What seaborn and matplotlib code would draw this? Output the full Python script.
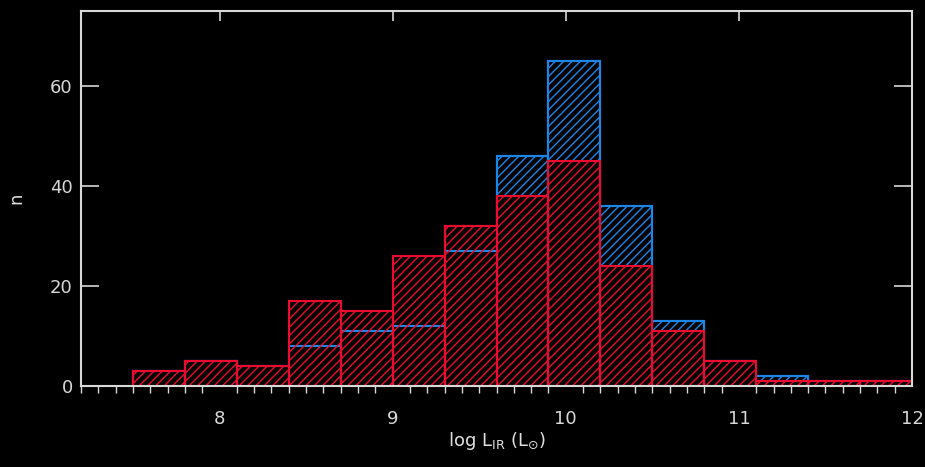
import numpy as np
import pandas as pd
import matplotlib
matplotlib.use("Agg")
import matplotlib.pyplot as plt
from matplotlib.ticker import MultipleLocator
import seaborn as sns

# Bin edges (log L_IR) and counts per bin
bin_edges = [7.5, 7.8, 8.1, 8.4, 8.7, 9.0, 9.3, 9.6, 9.9, 10.2, 10.5, 10.8, 11.1, 11.4, 11.7, 12.0]
blue_counts = [3, 5, 4, 8, 11, 12, 27, 46, 65, 36, 13, 5, 2, 1, 1]
red_counts = [3, 5, 4, 17, 15, 26, 32, 38, 45, 24, 11, 5, 1, 1, 1]
x_ticks = [8, 9, 10, 11, 12]
y_ticks = [0, 20, 40, 60]

centers = [(a + b) / 2 for a, b in zip(bin_edges[:-1], bin_edges[1:])]
df_blue = pd.DataFrame({"logL": centers, "n": blue_counts})
df_red = pd.DataFrame({"logL": centers, "n": red_counts})

sns.set_theme(style="dark")
plt.rcParams.update({
    "figure.facecolor": "black",
    "axes.facecolor": "black",
    "axes.edgecolor": "#d8d8d8",
    "text.color": "#e0e0e0",
    "axes.labelcolor": "#e0e0e0",
    "xtick.color": "#d8d8d8",
    "ytick.color": "#d8d8d8",
    "hatch.linewidth": 1.0,
})
plt.rcParams["font.family"] = ["DejaVu Sans"]

fig = plt.figure(figsize=(9.25, 4.67), dpi=100)
ax = fig.add_axes([0.0876, 0.1734, 0.8984, 0.8026])

BLUE = "#1a86e8"
RED = "#ee0a2e"


def draw(df, edge, face, hatch, lw):
    before = len(ax.patches)
    sns.histplot(data=df, x="logL", weights="n", bins=bin_edges, ax=ax,
                 fill=False, element="bars", color=edge, linewidth=lw)
    for p in ax.patches[before:]:
        p.set_hatch(hatch)
        p.set_edgecolor(edge)
        p.set_facecolor(face)
        p.set_linewidth(lw)


# blue hatched bars
draw(df_blue, BLUE, "none", "////", 1.5)
# black-out under red bars
draw(df_red, "none", "black", None, 0)
# blue outlines visible inside red bars
draw(df_blue, BLUE, "none", None, 1.5)
# red hatched bars on top
draw(df_red, RED, "none", "////", 1.5)

ax.set_xlim(7.2, 12.0)
ax.set_ylim(0, 75)
ax.set_xticks(x_ticks)
ax.set_xticklabels([str(t) for t in x_ticks])
ax.xaxis.set_minor_locator(MultipleLocator(0.1))
ax.set_yticks(y_ticks)
ax.set_yticklabels([str(t) for t in y_ticks])
ax.grid(False)

ax.tick_params(axis="x", which="major", direction="out", length=9, width=1.2,
               top=True, labeltop=False, labelsize=13, pad=8)
ax.tick_params(axis="x", which="minor", direction="out", length=5, width=1.0,
               bottom=True, top=False)
ax.tick_params(axis="y", which="major", direction="in", length=13, width=1.2,
               left=True, right=True, labelsize=13, pad=6)
# top ticks inward
for t in ax.xaxis.get_major_ticks():
    t.tick2line.set_marker(3)
    t.tick2line.set_markersize(7)
for sp in ax.spines.values():
    sp.set_visible(True)
    sp.set_color("#d8d8d8")
    sp.set_linewidth(1.5)

ax.set_xlabel(r"log L$_{\mathrm{IR}}$ (L$_{\odot}$)", fontsize=13, labelpad=2)
ax.set_ylabel("n", fontsize=13, labelpad=18)

fig.savefig("out.png", dpi=100, facecolor="black")
